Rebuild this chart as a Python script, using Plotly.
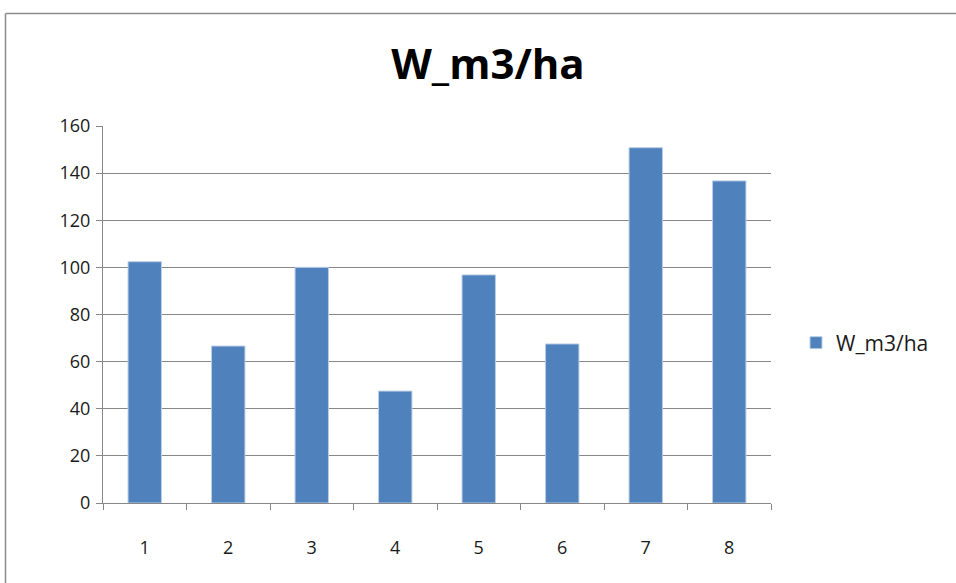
import plotly.graph_objects as go

categories = ["1", "2", "3", "4", "5", "6", "7", "8"]
values = [102.4, 66.6, 100.0, 47.5, 96.8, 67.5, 150.8, 136.7]
series_name = "W_m3/ha"
y_ticks = [0, 20, 40, 60, 80, 100, 120, 140, 160]

L, R, T, B = 103, 771, 126, 503
W, H = 956, 583

fig = go.Figure()
fig.add_trace(go.Bar(
    x=categories, y=values, name=series_name,
    marker=dict(color="#4F81BD", line=dict(color="#B9CDE5", width=1)),
    showlegend=True,
))

def px_to_paper_x(px):
    return (px - L) / (R - L)

def px_to_paper_y(py):
    return (B - py) / (B - T)

border = dict(color="#8C8C8C", width=1.5)
fig.add_shape(type="line", xref="paper", yref="paper",
              x0=px_to_paper_x(5.5), x1=px_to_paper_x(1100),
              y0=px_to_paper_y(13.5), y1=px_to_paper_y(13.5), line=border)
fig.add_shape(type="line", xref="paper", yref="paper",
              x0=px_to_paper_x(5.5), x1=px_to_paper_x(5.5),
              y0=px_to_paper_y(13.5), y1=px_to_paper_y(700), line=border)

fig.update_layout(
    width=W, height=H,
    margin=dict(l=L, r=W - R, t=T, b=H - B),
    paper_bgcolor="white", plot_bgcolor="white",
    title=dict(text="<b>W_m3/ha</b>", x=488 / W, xanchor="center",
               y=1 - 64 / H, yanchor="middle",
               font=dict(family="Open Sans, Liberation Sans, sans-serif", size=42, color="black")),
    font=dict(family="Open Sans, Liberation Sans, sans-serif", size=18, color="#1a1a1a"),
    bargap=0.6,
    showlegend=True,
    legend=dict(x=px_to_paper_x(796), y=px_to_paper_y(343), xanchor="left", yanchor="middle",
                font=dict(size=21, color="#1a1a1a"), itemwidth=30,
                bgcolor="rgba(0,0,0,0)"),
    xaxis=dict(type="category", tickson="boundaries", ticks="outside", ticklen=6,
               tickcolor="#878787", showline=True, linecolor="#878787", linewidth=1,
               showgrid=False, ticklabelstandoff=28),
    yaxis=dict(range=[0, 160], tickvals=y_ticks, ticks="outside", ticklen=6,
               tickcolor="#878787", showline=True, linecolor="#878787", linewidth=1,
               showgrid=True, gridcolor="#878787", gridwidth=1, zeroline=False,
               ticklabelstandoff=2),
)

fig.write_html("out.html")
